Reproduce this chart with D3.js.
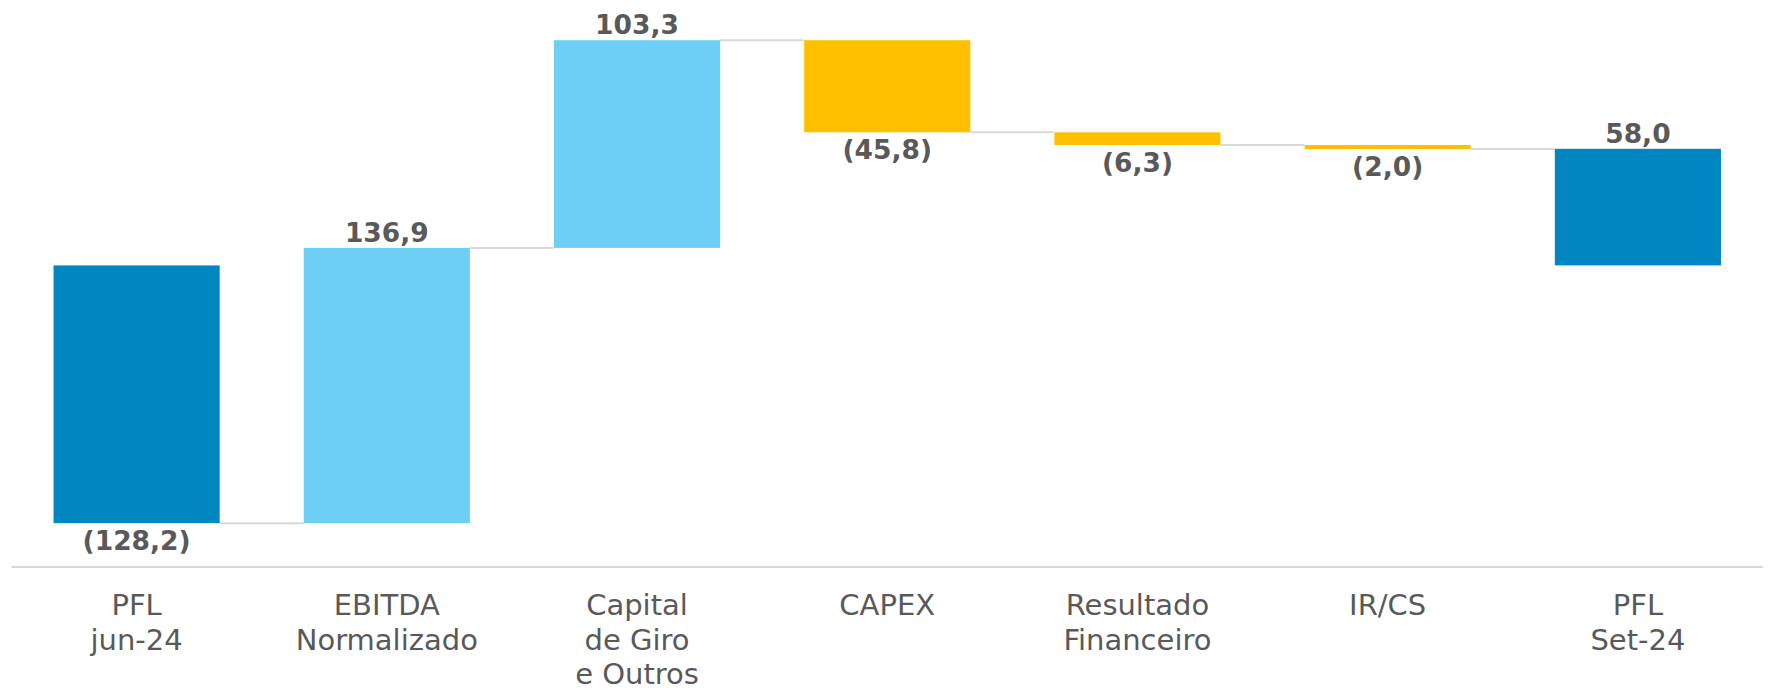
<!DOCTYPE html>
<html>
<head>
<meta charset="utf-8">
<script src="https://cdn.jsdelivr.net/npm/d3@7"></script>
<style>
  html, body { margin: 0; padding: 0; background: #fff; }
  svg { display: block; }
</style>
</head>
<body>
<div id="chart"></div>
<script>
// chart data
const categories = ["PFL\njun-24", "EBITDA\nNormalizado", "Capital\nde Giro\ne Outros", "CAPEX", "Resultado\nFinanceiro", "IR/CS", "PFL\nSet-24"];
const values = [-128.2, 136.9, 103.3, -45.8, -6.3, -2.0, 58.0];
const kinds = ["total", "delta", "delta", "delta", "delta", "delta", "total"];

const width = 1774, height = 691;
const colors = { total: "#0087c1", up: "#6dcff5", down: "#ffc000" };

// running totals -> bar extents
let run = 0;
const bars = values.map((v, i) => {
    let lo, hi;
    if (kinds[i] === "total") {
        lo = Math.min(0, v); hi = Math.max(0, v);
        run = v;
    } else {
        const start = run;
        run = run + v;
        lo = Math.min(start, run); hi = Math.max(start, run);
    }
    return { cat: categories[i], value: v, kind: kinds[i], lo, hi, end: run };
});

const svg = d3.select("#chart").append("svg")
    .attr("width", width)
    .attr("height", height);

const x = d3.scaleBand()
    .domain(categories)
    .range([11.5, 1763])
    .paddingInner(0.336)
    .paddingOuter(0.168);

const y = d3.scaleLinear()
    .domain([-150, 132])
    .range([567, 0]);

// connectors
svg.selectAll(".conn")
    .data(bars.slice(0, -1))
    .enter().append("line")
    .attr("class", "conn")
    .attr("x1", d => x(d.cat) + x.bandwidth())
    .attr("x2", (d, i) => x(categories[i + 1]))
    .attr("y1", d => y(d.end))
    .attr("y2", d => y(d.end))
    .attr("stroke", "#d9d9d9")
    .attr("stroke-width", 2);

// bars
svg.selectAll(".bar")
    .data(bars)
    .enter().append("rect")
    .attr("class", "bar")
    .attr("x", d => x(d.cat))
    .attr("width", x.bandwidth())
    .attr("y", d => y(d.hi))
    .attr("height", d => Math.max(1, y(d.lo) - y(d.hi)))
    .attr("fill", d => d.kind === "total" ? colors.total : (d.value >= 0 ? colors.up : colors.down));

// value labels
const fmt = v => {
    const s = Math.abs(v).toFixed(1).replace(".", ",");
    return v < 0 ? `(${s})` : s;
};

svg.selectAll(".val")
    .data(bars)
    .enter().append("text")
    .attr("class", "val")
    .attr("x", d => x(d.cat) + x.bandwidth() / 2)
    .attr("y", d => d.value >= 0 ? y(d.hi) - 6 : y(d.lo) + 27)
    .attr("text-anchor", "middle")
    .style("font-family", "'DejaVu Sans', Verdana, sans-serif")
    .style("font-weight", "bold")
    .style("font-size", "26.5px")
    .style("fill", "#595959")
    .text(d => fmt(d.value));

// x axis line
svg.append("line")
    .attr("x1", 11.5).attr("x2", 1763)
    .attr("y1", 567).attr("y2", 567)
    .attr("stroke", "#d9d9d9")
    .attr("stroke-width", 2);

// category labels
const lab = svg.selectAll(".cat")
    .data(categories)
    .enter().append("text")
    .attr("class", "cat")
    .attr("text-anchor", "middle")
    .style("font-family", "'DejaVu Sans', Verdana, sans-serif")
    .style("font-size", "29px")
    .style("fill", "#595959");

lab.selectAll("tspan")
    .data(d => d.split("\n").map(t => ({ t, c: d })))
    .enter().append("tspan")
    .attr("x", d => x(d.c) + x.bandwidth() / 2)
    .attr("y", (d, i) => 615 + i * 34.5)
    .text(d => d.t);
</script>
</body>
</html>
